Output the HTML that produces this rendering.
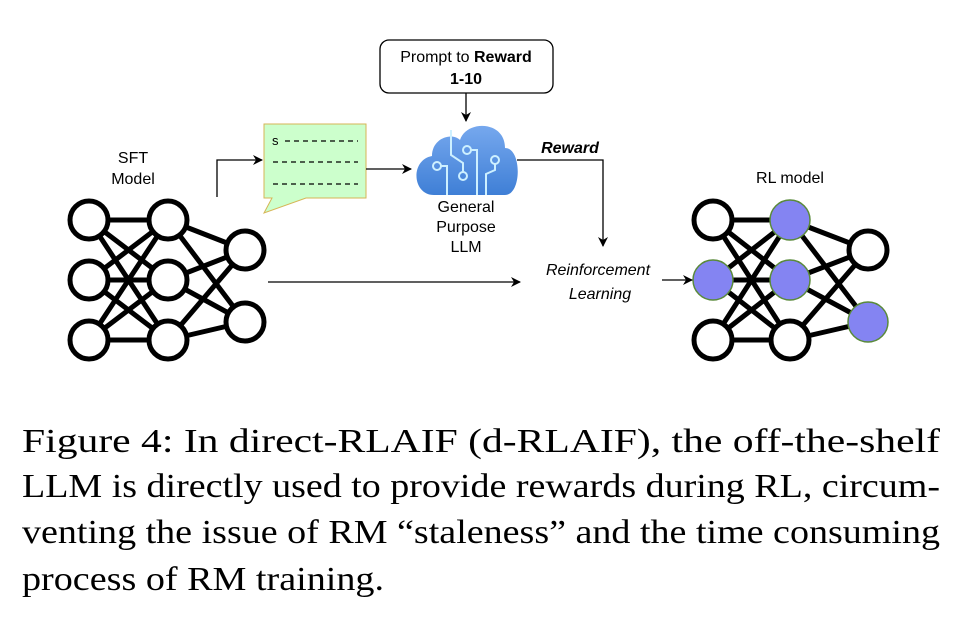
<!DOCTYPE html>
<html><head><meta charset="utf-8"><style>
html,body{margin:0;padding:0;background:#fff;}
svg{display:block;}
.s{font-family:"Liberation Sans",sans-serif;font-size:16px;fill:#000;}
.c{font-family:"Liberation Serif",serif;font-size:34px;fill:#000;}
</style></head><body>
<svg width="974" height="638" viewBox="0 0 974 638" xmlns="http://www.w3.org/2000/svg">
<defs><marker id="a" markerWidth="10" markerHeight="10" refX="9" refY="5" orient="auto" markerUnits="userSpaceOnUse"><path d="M0,0 L10,5 L0,10 L3,5 z" fill="#000"/></marker></defs>

<g stroke="#000" stroke-width="5" fill="none">
<path d="M89,220L168,220 M89,220L168,280 M89,220L168,340 M89,280L168,220 M89,280L168,280 M89,280L168,340 M89,340L168,220 M89,340L168,280 M89,340L168,340 M168,220L245,250 M168,220L245,322 M168,280L245,250 M168,280L245,322 M168,340L245,250 M168,340L245,322"/>
</g>
<g stroke="#000" stroke-width="5" fill="#fff">
<circle cx="89" cy="220" r="19"/><circle cx="89" cy="280" r="19"/><circle cx="89" cy="340" r="19"/>
<circle cx="168" cy="220" r="19"/><circle cx="168" cy="280" r="19"/><circle cx="168" cy="340" r="19"/>
<circle cx="245" cy="250" r="19"/><circle cx="245" cy="322" r="19"/>
</g>
<text class="s" x="133" y="163" text-anchor="middle">SFT</text>
<text class="s" x="133" y="184" text-anchor="middle">Model</text>

<g stroke="#000" stroke-width="5" fill="none">
<path d="M713,220L790,220 M713,220L790,280 M713,220L790,340 M713,280L790,220 M713,280L790,280 M713,280L790,340 M713,340L790,220 M713,340L790,280 M713,340L790,340 M790,220L868,250 M790,220L868,322 M790,280L868,250 M790,280L868,322 M790,340L868,250 M790,340L868,322"/>
</g>
<g stroke="#000" stroke-width="5" fill="#fff">
<circle cx="713" cy="220" r="19"/><circle cx="713" cy="340" r="19"/>
<circle cx="790" cy="340" r="19"/><circle cx="868" cy="250" r="19"/>
</g>
<g stroke="#5a8a3a" stroke-width="1.5" fill="#8484f2">
<circle cx="713" cy="280" r="20"/><circle cx="790" cy="220" r="20"/><circle cx="790" cy="280" r="20"/><circle cx="868" cy="322" r="20"/>
</g>
<text class="s" x="790" y="183" text-anchor="middle">RL model</text>

<rect x="380" y="40" width="173" height="53" rx="9" fill="#fff" stroke="#000" stroke-width="1.3"/>
<text class="s" x="466" y="62" text-anchor="middle">Prompt to <tspan font-weight="bold">Reward</tspan></text>
<text class="s" x="466" y="84" text-anchor="middle" font-weight="bold">1-10</text>
<line x1="466" y1="93" x2="466" y2="121" stroke="#000" stroke-width="1.3" marker-end="url(#a)"/>

<path d="M264,124 L366,124 L366,198 L306,198 L264,213 L272,198 L264,198 Z" fill="#ccffcc" stroke="#d6b656" stroke-width="1"/>
<text x="272" y="145" font-family="Liberation Sans,sans-serif" font-size="13">s</text>
<g stroke="#000" stroke-width="1.3" stroke-dasharray="5,4">
<line x1="285" y1="141" x2="358" y2="141"/>
<line x1="273" y1="162" x2="358" y2="162"/>
<line x1="273" y1="184" x2="358" y2="184"/>
</g>
<path d="M217,197 L217,160 L262,160" fill="none" stroke="#000" stroke-width="1.3" marker-end="url(#a)"/>
<line x1="366" y1="169" x2="411" y2="169" stroke="#000" stroke-width="1.3" marker-end="url(#a)"/>

<defs><linearGradient id="g" x1="0" y1="0" x2="0" y2="1"><stop offset="0" stop-color="#76a8ee"/><stop offset="1" stop-color="#3f7fd6"/></linearGradient></defs>
<path d="M434,195 C412,195 410,160 432,156 C432,138 452,132 460,140 C466,120 505,120 505,148 C522,148 522,195 505,195 Z" fill="url(#g)"/>
<g stroke="#cdf0ff" stroke-width="2" fill="none">
<path d="M451,130 L451,155 L463,163 L463,172"/><circle cx="463" cy="176" r="4"/>
<circle cx="467" cy="150" r="4"/><path d="M471,150 L477,150 L477,195"/>
<circle cx="437" cy="166" r="4"/><path d="M441,166 L447,166 L447,195"/>
<circle cx="495" cy="160" r="4"/><path d="M495,164 L495,170 L486,174 L486,195"/>
</g>
<text class="s" x="466" y="212" text-anchor="middle">General</text>
<text class="s" x="466" y="232" text-anchor="middle">Purpose</text>
<text class="s" x="466" y="252" text-anchor="middle">LLM</text>

<path d="M517,160 L603,160 L603,246" fill="none" stroke="#000" stroke-width="1.3" marker-end="url(#a)"/>
<text class="s" x="570" y="153" text-anchor="middle" font-weight="bold" font-style="italic">Reward</text>

<text class="s" x="598" y="275" text-anchor="middle" font-style="italic">Reinforcement</text>
<text class="s" x="600" y="299" text-anchor="middle" font-style="italic">Learning</text>
<line x1="268" y1="282" x2="520" y2="282" stroke="#000" stroke-width="1.3" marker-end="url(#a)"/>
<line x1="662" y1="280" x2="692" y2="280" stroke="#000" stroke-width="1.3" marker-end="url(#a)"/>

<text class="c" x="22" y="452" textLength="918" lengthAdjust="spacingAndGlyphs">Figure 4:  In direct-RLAIF (d-RLAIF), the off-the-shelf</text>
<text class="c" x="22" y="497" textLength="918" lengthAdjust="spacingAndGlyphs">LLM is directly used to provide rewards during RL, circum-</text>
<text class="c" x="22" y="543" textLength="918" lengthAdjust="spacingAndGlyphs">venting the issue of RM “staleness” and the time consuming</text>
<text class="c" x="22" y="590" textLength="362" lengthAdjust="spacingAndGlyphs">process of RM training.</text>
</svg>
</body></html>
